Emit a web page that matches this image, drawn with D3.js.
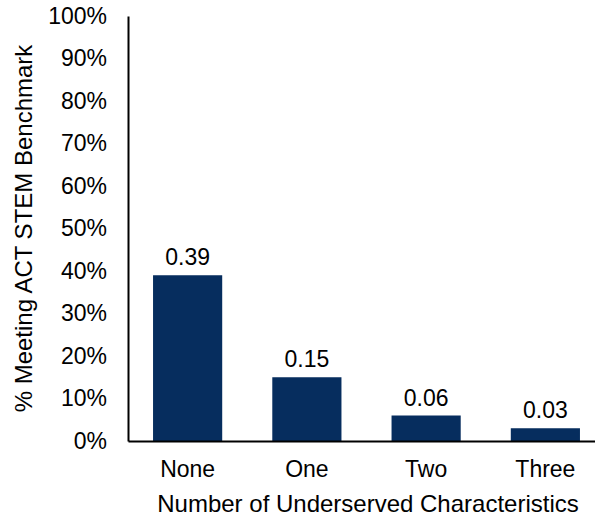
<!DOCTYPE html>
<html>
<head>
<meta charset="utf-8">
<script src="https://cdn.jsdelivr.net/npm/d3@7"></script>
<style>
  body { margin: 0; background: #fff; }
  svg { display: block; font-family: "Liberation Sans", Arial, sans-serif; }
</style>
</head>
<body>
<div id="chart"></div>
<script>
const categories = ["None", "One", "Two", "Three"];
const values = [0.39, 0.15, 0.06, 0.03];
const yTicks = [0, 0.1, 0.2, 0.3, 0.4, 0.5, 0.6, 0.7, 0.8, 0.9, 1.0];

const width = 595, height = 518;
const margin = { top: 16, left: 128, bottom: 77 };
const fontSize = 23;
const titleSize = 24;
const barColor = "#062d5e";

const svg = d3.select("#chart").append("svg")
  .attr("width", width)
  .attr("height", height);

// x range runs past the right edge, as in the original
const x = d3.scaleBand()
  .domain(categories)
  .range([margin.left, 605])
  .paddingInner(0.42)
  .paddingOuter(0.21);

const y = d3.scaleLinear()
  .domain([0, 1])
  .range([height - margin.bottom, margin.top]);

// bars
svg.selectAll("rect.bar")
  .data(values)
  .join("rect")
  .attr("class", "bar")
  .attr("x", (d, i) => x(categories[i]))
  .attr("y", d => y(d))
  .attr("width", x.bandwidth())
  .attr("height", d => y(0) - y(d))
  .attr("fill", barColor);

// value labels
svg.selectAll("text.val")
  .data(values)
  .join("text")
  .attr("class", "val")
  .attr("x", (d, i) => x(categories[i]) + x.bandwidth() / 2)
  .attr("y", d => y(d) - 10)
  .attr("text-anchor", "middle")
  .attr("font-size", fontSize)
  .attr("fill", "#000")
  .text(d => d.toFixed(2));

// y axis
const yAxis = svg.append("g")
  .attr("transform", `translate(${margin.left},0)`)
  .call(d3.axisLeft(y).tickValues(yTicks).tickFormat(d3.format(".0%")).tickSize(0).tickPadding(21));
yAxis.select(".domain").attr("stroke", "#000").attr("stroke-width", 2);
yAxis.selectAll("text").attr("font-size", fontSize).attr("font-family", null).attr("fill", "#000");

// x axis
const xAxis = svg.append("g")
  .attr("transform", `translate(0,${y(0)})`)
  .call(d3.axisBottom(x).tickSize(0).tickPadding(20));
xAxis.select(".domain").attr("stroke", "#000").attr("stroke-width", 2);
xAxis.selectAll("text").attr("font-size", fontSize).attr("font-family", null).attr("fill", "#000");

// axis titles
svg.append("text")
  .attr("x", 368)
  .attr("y", 512)
  .attr("text-anchor", "middle")
  .attr("font-size", titleSize)
  .text("Number of Underserved Characteristics");

svg.append("text")
  .attr("transform", `translate(32,${(y(0) + y(1)) / 2}) rotate(-90)`)
  .attr("text-anchor", "middle")
  .attr("font-size", titleSize)
  .text("% Meeting ACT STEM Benchmark");
</script>
</body>
</html>
